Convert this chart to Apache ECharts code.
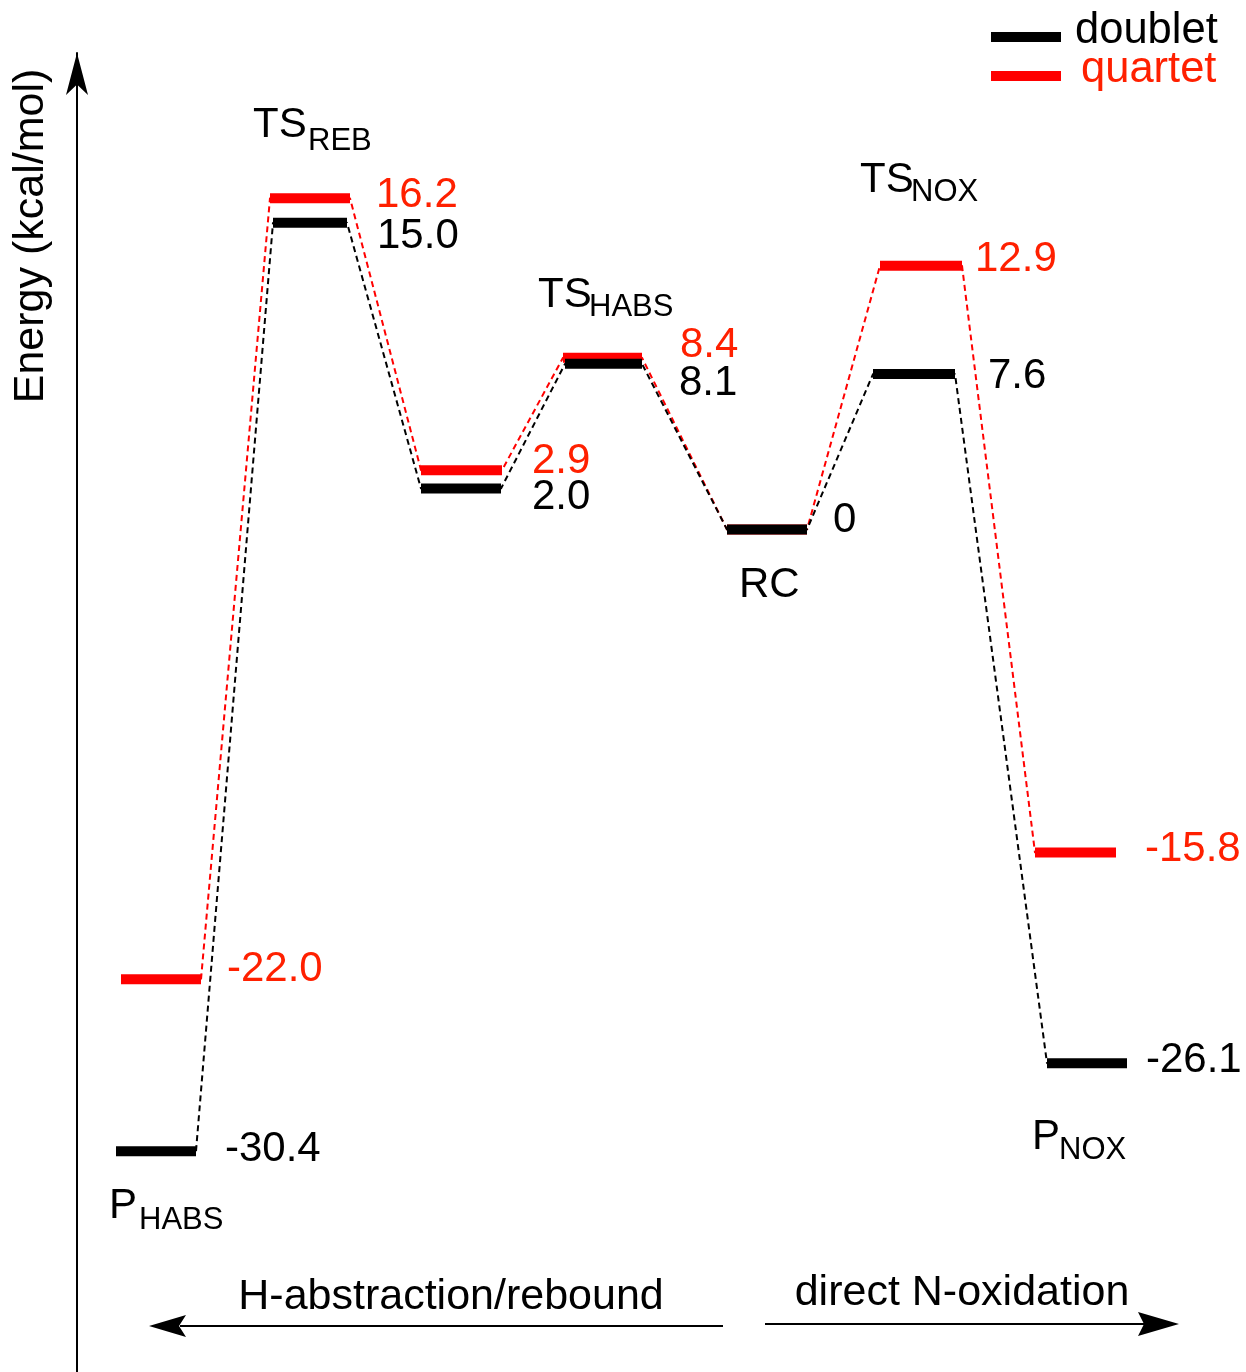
<!DOCTYPE html>
<html>
<head>
<meta charset="utf-8">
<script src="https://cdn.jsdelivr.net/npm/echarts@6/dist/echarts.min.js"></script>
<style>
  html, body { margin: 0; padding: 0; background: #fff; }
  #chart { width: 1246px; height: 1372px; }
</style>
</head>
<body>
<div id="chart"></div>
<script>
// ---- data ----
const stages = ['P_HABS', 'TS_REB', 'Int', 'TS_HABS', 'RC', 'TS_NOX', 'P_NOX'];
const doublet = [-30.4, 15.0, 2.0, 8.1, 0, 7.6, -26.1];
const quartet = [-22.0, 16.2, 2.9, 8.4, 0, 12.9, -15.8];
const doubletLabels = ['-30.4', '15.0', '2.0', '8.1', '0', '7.6', '-26.1'];
const quartetLabels = ['-22.0', '16.2', '2.9', '8.4', '', '12.9', '-15.8'];

// ---- layout (reaction coordinate, level extents, label offsets) ----
const doubletStart = [1.16, 2.73, 4.21, 5.65, 7.27, 8.73, 10.47];
const doubletEnd   = [1.96, 3.47, 5.01, 6.42, 8.07, 9.55, 11.27];
const quartetStart = [1.21, 2.70, 4.21, 5.63, 7.27, 8.80, 10.35];
const quartetEnd   = [2.01, 3.50, 5.02, 6.42, 8.07, 9.62, 11.16];
const doubletDx = [29, 30, 31, 37, 26, 33, 19];
const doubletDy = [-2, 14, 9, 20, -9, 2, -2.5];
const quartetDx = [26, 26, 30, 38, 0, 13, 29];
const quartetDy = [-10, -3, -9, -12, 0, -6, -3];

const FONT = "'Liberation Sans', Arial, Helvetica, sans-serif";
const RED = '#ff0000';
const RED_TEXT = '#ff2000';

function pathData(start, end, energy) {
  const pts = [];
  energy.forEach((e, i) => { pts.push([start[i], e]); pts.push([end[i], e]); });
  return pts;
}
function levelData(start, end, energy) {
  return energy.map((e, i) => [start[i], end[i], e, i]);
}
function levelRenderer(color, textColor, labels, dx, dy) {
  return function (params, api) {
    const i = api.value(3);
    const p1 = api.coord([api.value(0), api.value(2)]);
    const p2 = api.coord([api.value(1), api.value(2)]);
    const children = [{
      type: 'line',
      shape: { x1: p1[0], y1: p1[1], x2: p2[0], y2: p2[1] },
      style: { stroke: color, lineWidth: 10, lineCap: 'butt' }
    }];
    if (labels[i]) {
      children.push({
        type: 'text',
        x: p2[0] + dx[i],
        y: p2[1] + dy[i],
        style: { text: labels[i], fill: textColor, fontSize: 42, fontFamily: FONT, align: 'left', verticalAlign: 'middle' }
      });
    }
    return { type: 'group', children: children };
  };
}

const chart = echarts.init(document.getElementById('chart'), null, { renderer: 'canvas' });

function txt(text, x, y, size, align) {
  return {
    type: 'text', x: x, y: y, silent: true,
    style: { text: text, fill: '#000', fontSize: size, fontFamily: FONT, align: align || 'left', verticalAlign: 'middle' }
  };
}

const energyLabel = txt('Energy (kcal/mol)', 31, 236, 43, 'center');
energyLabel.rotation = Math.PI / 2;

const option = {
  animation: false,
  backgroundColor: '#fff',
  grid: { left: 77, right: 0, top: 53, height: 1319 },
  xAxis: { type: 'value', min: 0.77, max: 12.46, show: false },
  yAxis: {
    type: 'value', min: -41.2, max: 23.3,
    axisLine: { show: true, onZero: false, symbol: ['none', 'arrow'], symbolSize: [16.5, 42],
                lineStyle: { color: '#000', width: 2 } },
    axisTick: { show: false }, axisLabel: { show: false }, splitLine: { show: false }
  },
  legend: {
    orient: 'vertical', left: 991, top: 9, padding: 0, itemWidth: 70, itemHeight: 10, itemGap: -17,
    selectedMode: false,
    formatter: function (name) { return '{t|' + name + '}'; },
    data: [
      { name: 'doublet', icon: 'rect', itemStyle: { color: '#000' },
        textStyle: { color: '#000', rich: { t: { fontSize: 43.5, fontFamily: FONT, lineHeight: 38, padding: [0, 0, 12, 9] } } } },
      { name: 'quartet', icon: 'rect', itemStyle: { color: RED },
        textStyle: { color: RED_TEXT, rich: { t: { fontSize: 43.5, fontFamily: FONT, lineHeight: 38, padding: [0, 0, 12, 15] } } } }
    ]
  },
  series: [
    { name: 'quartet path', type: 'line', data: pathData(quartetStart, quartetEnd, quartet), symbol: 'none',
      lineStyle: { color: RED, width: 2, type: [6, 4] }, silent: true, z: 1 },
    { name: 'doublet path', type: 'line', data: pathData(doubletStart, doubletEnd, doublet), symbol: 'none',
      lineStyle: { color: '#000', width: 2, type: [6, 4] }, silent: true, z: 1 },
    { name: 'quartet', type: 'custom', data: levelData(quartetStart, quartetEnd, quartet),
      encode: { x: [0, 1], y: 2 }, itemStyle: { color: RED },
      renderItem: levelRenderer(RED, RED_TEXT, quartetLabels, quartetDx, quartetDy), z: 3 },
    { name: 'doublet', type: 'custom', data: levelData(doubletStart, doubletEnd, doublet),
      encode: { x: [0, 1], y: 2 }, itemStyle: { color: '#000' },
      renderItem: levelRenderer('#000', '#000', doubletLabels, doubletDx, doubletDy), z: 4 }
  ],
  graphic: [
    energyLabel,
    txt('TS', 253, 125, 42), txt('REB', 308, 141, 31),
    txt('TS', 538, 295, 42), txt('HABS', 589, 307, 31),
    txt('TS', 860, 180, 42), txt('NOX', 911, 192, 31),
    txt('RC', 739, 585, 42),
    txt('P', 1032, 1137, 42), txt('NOX', 1059, 1150, 31),
    txt('P', 109, 1206, 42), txt('HABS', 139, 1220, 31),
    { type: 'line', silent: true, shape: { x1: 723, y1: 1326, x2: 180, y2: 1326 }, style: { stroke: '#000', lineWidth: 2 } },
    { type: 'polygon', silent: true, shape: { points: [[149, 1326], [186, 1315], [179, 1326], [186, 1337]] }, style: { fill: '#000' } },
    { type: 'line', silent: true, shape: { x1: 765, y1: 1324, x2: 1150, y2: 1324 }, style: { stroke: '#000', lineWidth: 2 } },
    { type: 'polygon', silent: true, shape: { points: [[1179, 1324], [1138, 1312], [1144, 1324], [1138, 1336]] }, style: { fill: '#000' } },
    txt('H-abstraction/rebound', 451, 1297, 43, 'center'),
    txt('direct N-oxidation', 962, 1293, 43, 'center')
  ]
};
chart.setOption(option);
</script>
</body>
</html>
